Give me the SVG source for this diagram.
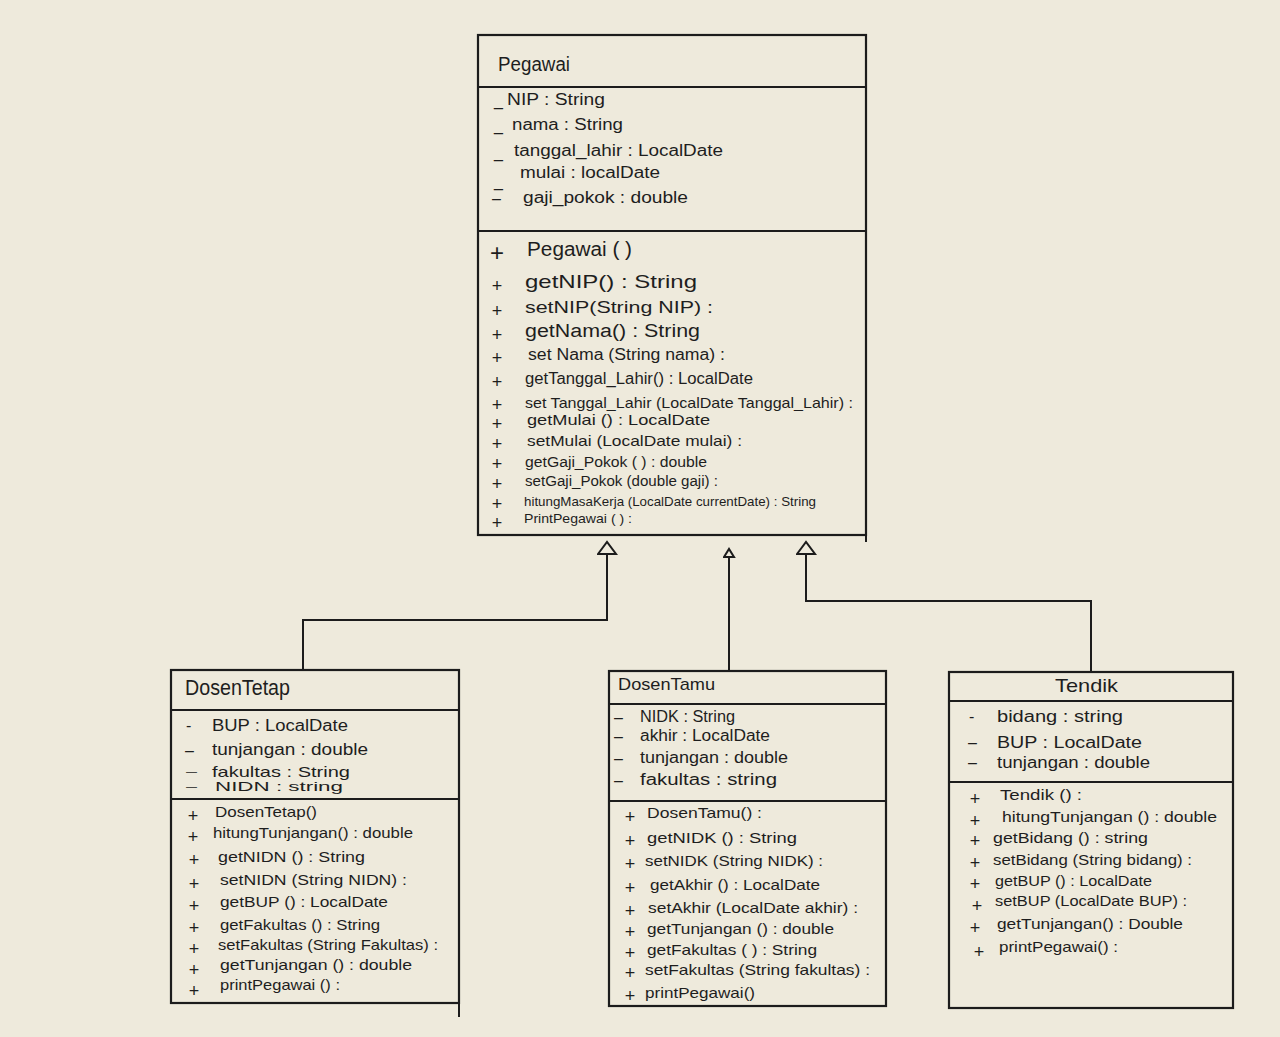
<svg xmlns="http://www.w3.org/2000/svg" width="1280" height="1037" viewBox="0 0 1280 1037">
<defs>
<style>
.bg{fill:#EEEADC}
.box{fill:none;stroke:#1c1c1c;stroke-width:2.2}
.ln{fill:none;stroke:#1c1c1c;stroke-width:2}
text{font-family:"Liberation Sans",Arial,sans-serif;fill:#1e1e1e}
.t{font-size:20px}
.a{font-size:16px}
.m{font-size:15px}
.s{font-size:13px}
.d{font-size:11px}
.k{font-size:18px;text-anchor:middle}
</style>
<marker id="inh" markerUnits="userSpaceOnUse" markerWidth="16" markerHeight="22" refX="1" refY="10" orient="auto" viewBox="0 0 16 22">
<path d="M1,1 L13,10 L1,19 Z" fill="#EEEADC" stroke="#1c1c1c" stroke-width="2"/>
</marker>
<marker id="inh2" markerUnits="userSpaceOnUse" markerWidth="12" markerHeight="14" refX="1" refY="6" orient="auto" viewBox="0 0 12 14">
<path d="M1,1 L9,6 L1,11 Z" fill="#EEEADC" stroke="#1c1c1c" stroke-width="2"/>
</marker>
</defs>
<rect class="bg" x="0" y="0" width="1280" height="1037"/>

<g id="connectors">
<path class="ln" d="M303,670 V620 H607 V554" marker-end="url(#inh)"/>
<path class="ln" d="M729,672 V557" marker-end="url(#inh2)"/>
<path class="ln" d="M1091,672 V601 H806 V554" marker-end="url(#inh)"/>
</g>

<g id="Pegawai">
<rect class="box" x="478" y="35" width="388" height="500"/>
<path class="ln" d="M478,87 H866 M478,231 H866 M866,535 V542"/>
<text class="t" x="498" y="71" textLength="72" lengthAdjust="spacingAndGlyphs">Pegawai</text>
<text class="a" x="494" y="106">_</text><text class="a" x="507" y="105" textLength="98" lengthAdjust="spacingAndGlyphs">NIP : String</text>
<text class="a" x="494" y="131">_</text><text class="a" x="512" y="130" textLength="111" lengthAdjust="spacingAndGlyphs">nama : String</text>
<text class="a" x="494" y="158">_</text><text class="a" x="514" y="156" textLength="209" lengthAdjust="spacingAndGlyphs">tanggal_lahir : LocalDate</text>
<text class="a" x="494" y="187">_</text><text class="a" x="520" y="178" textLength="140" lengthAdjust="spacingAndGlyphs">mulai : localDate</text>
<text class="a" x="492" y="204">–</text><text class="a" x="523" y="203" textLength="165" lengthAdjust="spacingAndGlyphs">gaji_pokok : double</text>
<text class="k" x="497" y="261" style="font-size:24px">+</text><text x="527" y="256" style="font-size:20px" textLength="105" lengthAdjust="spacingAndGlyphs">Pegawai ( )</text>
<text class="k" x="497" y="292">+</text><text x="525" y="288" style="font-size:19px" textLength="172" lengthAdjust="spacingAndGlyphs">getNIP() : String</text>
<text class="k" x="497" y="317">+</text><text x="525" y="313" style="font-size:17px" textLength="188" lengthAdjust="spacingAndGlyphs">setNIP(String NIP) :</text>
<text class="k" x="497" y="341">+</text><text x="525" y="337" style="font-size:18px" textLength="175" lengthAdjust="spacingAndGlyphs">getNama() : String</text>
<text class="k" x="497" y="364">+</text><text x="528" y="360" style="font-size:16px" textLength="197" lengthAdjust="spacingAndGlyphs">set Nama (String nama) :</text>
<text class="k" x="497" y="388">+</text><text x="525" y="384" style="font-size:16px" textLength="228" lengthAdjust="spacingAndGlyphs">getTanggal_Lahir() : LocalDate</text>
<text class="k" x="497" y="411">+</text><text x="525" y="408" style="font-size:15px" textLength="328" lengthAdjust="spacingAndGlyphs">set Tanggal_Lahir (LocalDate Tanggal_Lahir) :</text>
<text class="k" x="497" y="430">+</text><text x="527" y="425" style="font-size:15px" textLength="183" lengthAdjust="spacingAndGlyphs">getMulai () : LocalDate</text>
<text class="k" x="497" y="450">+</text><text x="527" y="446" style="font-size:15px" textLength="215" lengthAdjust="spacingAndGlyphs">setMulai (LocalDate mulai) :</text>
<text class="k" x="497" y="470">+</text><text x="525" y="467" style="font-size:14px" textLength="182" lengthAdjust="spacingAndGlyphs">getGaji_Pokok ( ) : double</text>
<text class="k" x="497" y="490">+</text><text x="525" y="486" style="font-size:14px" textLength="193" lengthAdjust="spacingAndGlyphs">setGaji_Pokok (double gaji) :</text>
<text class="k" x="497" y="510">+</text><text x="524" y="506" style="font-size:13px" textLength="292" lengthAdjust="spacingAndGlyphs">hitungMasaKerja (LocalDate currentDate) : String</text>
<text class="k" x="497" y="529">+</text><text x="524" y="523" style="font-size:13px" textLength="108" lengthAdjust="spacingAndGlyphs">PrintPegawai ( ) :</text>
</g>

<g id="DosenTetap">
<rect class="box" x="171" y="670" width="288" height="333"/>
<path class="ln" d="M171,710 H459 M171,799 H459 M459,1003 V1017"/>
<text x="185" y="695" style="font-size:22px" textLength="105" lengthAdjust="spacingAndGlyphs">DosenTetap</text>
<text class="a" x="186" y="731">-</text><text class="a" x="212" y="731" textLength="136" lengthAdjust="spacingAndGlyphs">BUP : LocalDate</text>
<text class="a" x="185" y="756">–</text><text class="a" x="212" y="755" textLength="156" lengthAdjust="spacingAndGlyphs">tunjangan : double</text>
<text class="d" x="186" y="775">—</text><text class="m" x="212" y="777" textLength="138" lengthAdjust="spacingAndGlyphs">fakultas : String</text>
<text class="d" x="186" y="790">—</text><text class="s" x="215" y="791" textLength="128" lengthAdjust="spacingAndGlyphs">NIDN : string</text>
<text class="k" x="193" y="822">+</text><text class="m" x="215" y="817" textLength="102" lengthAdjust="spacingAndGlyphs">DosenTetap()</text>
<text class="k" x="193" y="843">+</text><text class="m" x="213" y="838" textLength="200" lengthAdjust="spacingAndGlyphs">hitungTunjangan() : double</text>
<text class="k" x="194" y="866">+</text><text class="m" x="218" y="862" textLength="147" lengthAdjust="spacingAndGlyphs">getNIDN () : String</text>
<text class="k" x="194" y="890">+</text><text class="m" x="220" y="885" textLength="187" lengthAdjust="spacingAndGlyphs">setNIDN (String NIDN) :</text>
<text class="k" x="194" y="912">+</text><text class="m" x="220" y="907" textLength="168" lengthAdjust="spacingAndGlyphs">getBUP () : LocalDate</text>
<text class="k" x="194" y="934">+</text><text class="m" x="220" y="930" textLength="160" lengthAdjust="spacingAndGlyphs">getFakultas () : String</text>
<text class="k" x="194" y="955">+</text><text class="m" x="218" y="950" textLength="220" lengthAdjust="spacingAndGlyphs">setFakultas (String Fakultas) :</text>
<text class="k" x="194" y="976">+</text><text class="m" x="220" y="970" textLength="192" lengthAdjust="spacingAndGlyphs">getTunjangan () : double</text>
<text class="k" x="194" y="997">+</text><text class="m" x="220" y="990" textLength="120" lengthAdjust="spacingAndGlyphs">printPegawai () :</text>
</g>

<g id="DosenTamu">
<rect class="box" x="609" y="671" width="277" height="335"/>
<path class="ln" d="M609,704 H886 M609,801 H886"/>
<text x="618" y="690" style="font-size:17px" textLength="97" lengthAdjust="spacingAndGlyphs">DosenTamu</text>
<text class="a" x="614" y="723">–</text><text class="a" x="640" y="722" textLength="95" lengthAdjust="spacingAndGlyphs">NIDK : String</text>
<text class="a" x="614" y="742">–</text><text class="a" x="640" y="741" textLength="130" lengthAdjust="spacingAndGlyphs">akhir : LocalDate</text>
<text class="a" x="614" y="764">–</text><text class="a" x="640" y="763" textLength="148" lengthAdjust="spacingAndGlyphs">tunjangan : double</text>
<text class="a" x="614" y="786">–</text><text class="a" x="640" y="785" textLength="137" lengthAdjust="spacingAndGlyphs">fakultas : string</text>
<text class="k" x="630" y="823">+</text><text class="m" x="647" y="818" textLength="115" lengthAdjust="spacingAndGlyphs">DosenTamu() :</text>
<text class="k" x="630" y="847">+</text><text class="m" x="647" y="843" textLength="150" lengthAdjust="spacingAndGlyphs">getNIDK () : String</text>
<text class="k" x="630" y="870">+</text><text class="m" x="645" y="866" textLength="178" lengthAdjust="spacingAndGlyphs">setNIDK (String NIDK) :</text>
<text class="k" x="630" y="894">+</text><text class="m" x="650" y="890" textLength="170" lengthAdjust="spacingAndGlyphs">getAkhir () : LocalDate</text>
<text class="k" x="630" y="917">+</text><text class="m" x="648" y="913" textLength="210" lengthAdjust="spacingAndGlyphs">setAkhir (LocalDate akhir) :</text>
<text class="k" x="630" y="938">+</text><text class="m" x="647" y="934" textLength="187" lengthAdjust="spacingAndGlyphs">getTunjangan () : double</text>
<text class="k" x="630" y="959">+</text><text class="m" x="647" y="955" textLength="170" lengthAdjust="spacingAndGlyphs">getFakultas ( ) : String</text>
<text class="k" x="630" y="979">+</text><text class="m" x="645" y="975" textLength="225" lengthAdjust="spacingAndGlyphs">setFakultas (String fakultas) :</text>
<text class="k" x="630" y="1002">+</text><text class="m" x="645" y="998" textLength="110" lengthAdjust="spacingAndGlyphs">printPegawai()</text>
</g>

<g id="Tendik">
<rect class="box" x="949" y="672" width="284" height="336"/>
<path class="ln" d="M949,701 H1233 M949,782 H1233"/>
<text x="1055" y="692" style="font-size:19px" textLength="63" lengthAdjust="spacingAndGlyphs">Tendik</text>
<text class="a" x="969" y="722">-</text><text class="a" x="997" y="722" textLength="126" lengthAdjust="spacingAndGlyphs">bidang : string</text>
<text class="a" x="968" y="748">–</text><text class="a" x="997" y="748" textLength="145" lengthAdjust="spacingAndGlyphs">BUP : LocalDate</text>
<text class="a" x="968" y="768">–</text><text class="a" x="997" y="768" textLength="153" lengthAdjust="spacingAndGlyphs">tunjangan : double</text>
<text class="k" x="975" y="805">+</text><text class="m" x="1000" y="800" textLength="82" lengthAdjust="spacingAndGlyphs">Tendik () :</text>
<text class="k" x="975" y="827">+</text><text class="m" x="1002" y="822" textLength="215" lengthAdjust="spacingAndGlyphs">hitungTunjangan () : double</text>
<text class="k" x="975" y="847">+</text><text class="m" x="993" y="843" textLength="155" lengthAdjust="spacingAndGlyphs">getBidang () : string</text>
<text class="k" x="975" y="869">+</text><text class="m" x="993" y="865" textLength="199" lengthAdjust="spacingAndGlyphs">setBidang (String bidang) :</text>
<text class="k" x="975" y="890">+</text><text class="m" x="995" y="886" textLength="157" lengthAdjust="spacingAndGlyphs">getBUP () : LocalDate</text>
<text class="k" x="977" y="912">+</text><text class="m" x="995" y="906" textLength="192" lengthAdjust="spacingAndGlyphs">setBUP (LocalDate BUP) :</text>
<text class="k" x="975" y="934">+</text><text class="m" x="997" y="929" textLength="186" lengthAdjust="spacingAndGlyphs">getTunjangan() : Double</text>
<text class="k" x="979" y="958">+</text><text class="m" x="999" y="952" textLength="119" lengthAdjust="spacingAndGlyphs">printPegawai() :</text>
</g>
</svg>
